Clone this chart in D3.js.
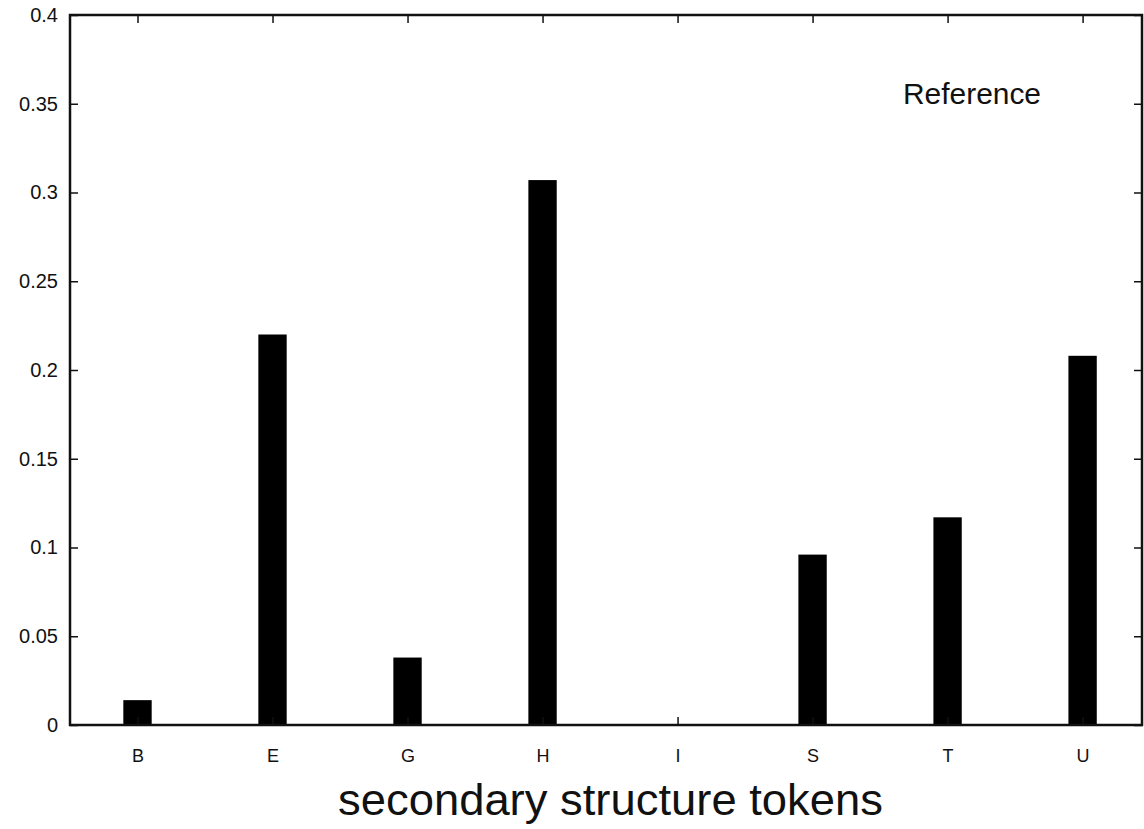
<!DOCTYPE html>
<html>
<head>
<meta charset="utf-8">
<script src="https://cdn.jsdelivr.net/npm/d3@7"></script>
<style>
  html, body { margin: 0; padding: 0; background: #fff; }
  svg { display: block; font-family: "Liberation Sans", Arial, Helvetica, sans-serif; }
</style>
</head>
<body>
<svg id="chart" width="1144" height="829"></svg>
<script>
// Secondary-structure token frequencies
const categories = ["B", "E", "G", "H", "I", "S", "T", "U"];
const frequencies = [0.014, 0.22, 0.038, 0.307, 0.0, 0.096, 0.117, 0.208];
const yTicks = [0, 0.05, 0.1, 0.15, 0.2, 0.25, 0.3, 0.35, 0.4];
const yTickLabels = ["0", "0.05", "0.1", "0.15", "0.2", "0.25", "0.3", "0.35", "0.4"];
const xTitle = "secondary structure tokens";
const seriesName = "Reference";

const svg = d3.select("#chart");
const plot = { left: 70, right: 1142, top: 15, bottom: 725 };
const tickLen = 8;
const barWidth = 0.21; // in category units

const x = d3.scaleLinear().domain([-0.5, 7.44]).range([plot.left, plot.right]);
const y = d3.scaleLinear().domain([0, 0.4]).range([plot.bottom, plot.top]);

// bars
svg.append("g")
  .selectAll("rect")
  .data(frequencies)
  .join("rect")
  .attr("x", (d, i) => x(i - barWidth / 2))
  .attr("width", (d, i) => x(i + barWidth / 2) - x(i - barWidth / 2))
  .attr("y", d => y(d))
  .attr("height", d => y(0) - y(d))
  .attr("fill", "#000");

// left axis (ticks inward) and mirrored right ticks
const leftAxis = d3.axisLeft(y).tickValues(yTicks)
  .tickFormat((d, i) => yTickLabels[i]).tickSizeInner(-tickLen).tickSizeOuter(0).tickPadding(20);
const gL = svg.append("g").attr("transform", `translate(${plot.left},0)`).call(leftAxis);
gL.select(".domain").remove();
gL.selectAll(".tick line").attr("stroke", "#111").attr("stroke-width", 1.5);
gL.selectAll(".tick text").attr("font-size", 20).attr("fill", "#111")
  .attr("font-family", "Liberation Sans, Arial, sans-serif")
  .attr("x", -12);

const rightAxis = d3.axisRight(y).tickValues(yTicks).tickSizeInner(-tickLen).tickSizeOuter(0).tickFormat("");
const gR = svg.append("g").attr("transform", `translate(${plot.right},0)`).call(rightAxis);
gR.select(".domain").remove();
gR.selectAll(".tick line").attr("stroke", "#111").attr("stroke-width", 1.5);

// bottom axis with category labels, top mirrored ticks
const idx = d3.range(categories.length);
const bottomAxis = d3.axisBottom(x).tickValues(idx)
  .tickFormat(i => categories[i]).tickSizeInner(-tickLen).tickSizeOuter(0).tickPadding(24);
const gB = svg.append("g").attr("transform", `translate(0,${plot.bottom})`).call(bottomAxis);
gB.select(".domain").remove();
gB.selectAll(".tick line").attr("stroke", "#111").attr("stroke-width", 1.5);
gB.selectAll(".tick text").attr("font-size", 18).attr("fill", "#111")
  .attr("font-family", "Liberation Sans, Arial, sans-serif");

const topAxis = d3.axisTop(x).tickValues(idx).tickSizeInner(-tickLen).tickSizeOuter(0).tickFormat("");
const gT = svg.append("g").attr("transform", `translate(0,${plot.top})`).call(topAxis);
gT.select(".domain").remove();
gT.selectAll(".tick line").attr("stroke", "#111").attr("stroke-width", 1.5);

// plot border
svg.append("rect")
  .attr("x", plot.left).attr("y", plot.top)
  .attr("width", plot.right - plot.left).attr("height", plot.bottom - plot.top)
  .attr("fill", "none").attr("stroke", "#111").attr("stroke-width", 2.5);

// series key
svg.append("text")
  .attr("x", 903).attr("y", 104)
  .attr("font-size", 29).attr("fill", "#111")
  .attr("textLength", 138).attr("lengthAdjust", "spacingAndGlyphs")
  .text(seriesName);

// x axis title
svg.append("text")
  .attr("x", 338).attr("y", 815)
  .attr("font-size", 44).attr("fill", "#111")
  .attr("textLength", 545).attr("lengthAdjust", "spacingAndGlyphs")
  .text(xTitle);
</script>
</body>
</html>
